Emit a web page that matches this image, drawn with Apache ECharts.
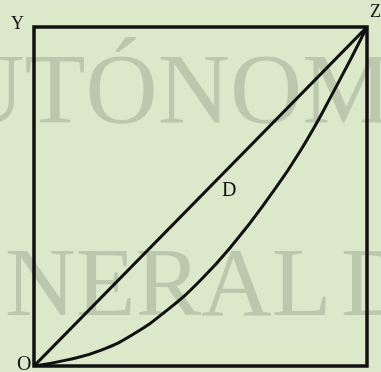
<!DOCTYPE html>
<html>
<head>
<meta charset="utf-8">
<script src="https://cdn.jsdelivr.net/npm/echarts@6/dist/echarts.min.js"></script>
<style>
  html, body { margin: 0; padding: 0; background: #dbe8c9; }
  #chart { width: 381px; height: 372px; }
</style>
</head>
<body>
<div id="chart"></div>
<script>
// curva de Lorenz: proporción acumulada de población (x) y de ingreso (y)
var diagonalX = [0, 1];
var diagonalY = [0, 1];
var curveX = [0, 0.1, 0.2, 0.3, 0.4, 0.5, 0.6, 0.7, 0.8, 0.9, 1];
var curveY = [0, 0.018, 0.046, 0.095, 0.165, 0.253, 0.362, 0.49, 0.635, 0.81, 1];

function pairs(xs, ys) {
  return xs.map(function (x, i) { return [x, ys[i]]; });
}

var chart = echarts.init(document.getElementById('chart'));
var ink = '#111';
var serif = '"Liberation Serif", "DejaVu Serif", serif';
var mark = 'rgba(105,118,100,0.28)';

var option = {
  backgroundColor: '#dbe8c9',
  animation: false,
  grid: {
    left: 34, right: 14, top: 27, bottom: 6,
    show: true, borderColor: ink, borderWidth: 3.5, backgroundColor: 'transparent'
  },
  xAxis: {
    type: 'value', min: 0, max: 1,
    axisLine: { show: false }, axisTick: { show: false },
    axisLabel: { show: false }, splitLine: { show: false }
  },
  yAxis: {
    type: 'value', min: 0, max: 1,
    axisLine: { show: false }, axisTick: { show: false },
    axisLabel: { show: false }, splitLine: { show: false }
  },
  graphic: [
    // marca de agua del papel
    { type: 'text', z: -10, left: -120, top: 46,
      style: { text: 'AUTÓNOMA', font: '100px ' + serif, fill: mark } },
    { type: 'text', z: -10, left: 5, top: 240,
      style: { text: 'NERAL', font: '98px ' + serif, fill: mark } },
    { type: 'text', z: -10, left: 341, top: 240,
      style: { text: 'D', font: '98px ' + serif, fill: mark } },
    // letras del diagrama
    { type: 'text', left: 11, top: 15,
      style: { text: 'Y', font: '18px ' + serif, fill: ink } },
    { type: 'text', left: 370, top: 3,
      style: { text: 'Z', font: '18px ' + serif, fill: ink } },
    { type: 'text', left: 17, top: 355,
      style: { text: 'O', font: '20px ' + serif, fill: ink } },
    { type: 'text', left: 222, top: 181,
      style: { text: 'D', font: '20px ' + serif, fill: ink } }
  ],
  series: [
    {
      type: 'line', data: pairs(diagonalX, diagonalY),
      showSymbol: false, lineStyle: { color: ink, width: 3.2 }
    },
    {
      type: 'line', data: pairs(curveX, curveY), smooth: true,
      showSymbol: false, lineStyle: { color: ink, width: 3 }
    }
  ]
};

chart.setOption(option);
</script>
</body>
</html>
